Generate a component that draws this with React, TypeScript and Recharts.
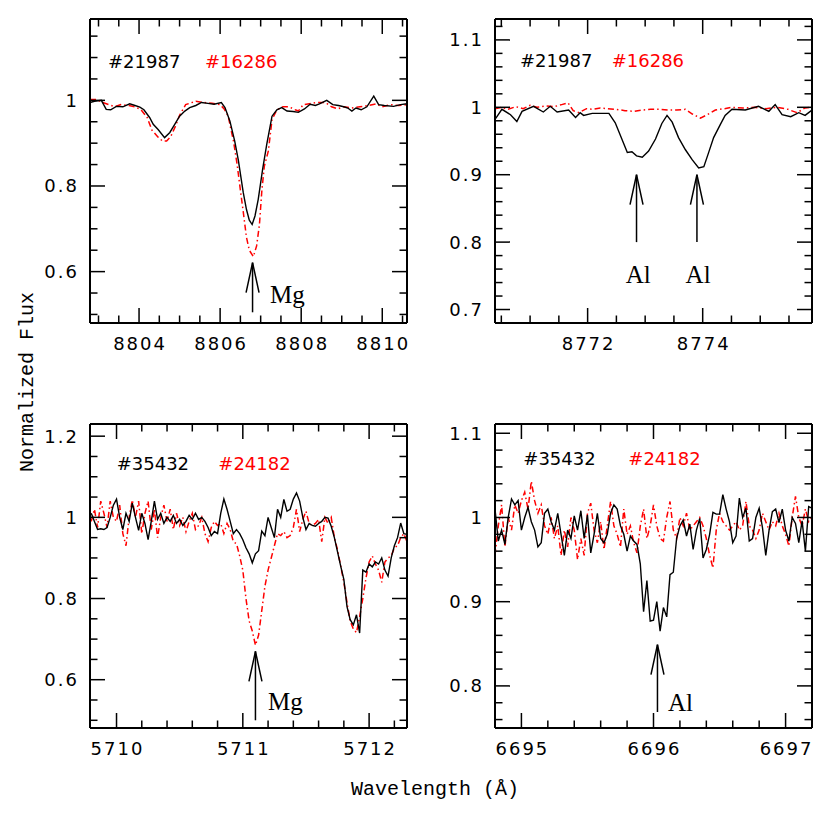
import React from 'react';
import { LineChart, Line, XAxis, YAxis, ReferenceLine, ReferenceDot } from 'recharts';

type Pt = [number, number];

// ---------- Panel 1 : Mg 8806.8 ----------
const p1Black: Pt[] = [
  [8802.79,0.995],[8802.9,0.998],[8803.07,1.0],[8803.19,0.979],[8803.3,0.978],[8803.44,0.986],[8803.6,0.985],[8803.77,0.992],[8803.9,0.988],[8804.02,0.984],
  [8804.12,0.978],[8804.26,0.96],[8804.35,0.944],[8804.47,0.932],[8804.63,0.913],[8804.76,0.925],[8804.88,0.944],[8805.0,0.963],[8805.13,0.975],[8805.25,0.983],
  [8805.4,0.988],[8805.54,0.995],[8805.7,0.993],[8805.85,0.991],[8806.03,0.995],[8806.12,0.983],[8806.24,0.952],[8806.36,0.905],[8806.45,0.86],[8806.57,0.785],
  [8806.65,0.745],[8806.72,0.72],[8806.79,0.71],[8806.86,0.73],[8806.94,0.769],[8807.05,0.84],[8807.15,0.897],[8807.28,0.963],[8807.4,0.978],[8807.52,0.983],
  [8807.65,0.975],[8807.8,0.974],[8807.93,0.972],[8808.08,0.98],[8808.22,0.991],[8808.35,0.988],[8808.45,0.992],[8808.63,1.0],[8808.78,0.99],[8808.92,0.988],
  [8809.05,0.985],[8809.15,0.982],[8809.25,0.975],[8809.35,0.982],[8809.48,0.978],[8809.62,0.985],[8809.79,1.01],[8809.91,0.99],[8810.05,0.988],[8810.28,0.986],
  [8810.45,0.99],[8810.61,0.992],
];
const p1Red: Pt[] = [
  [8802.79,1.002],[8802.95,1.002],[8803.1,0.995],[8803.25,0.99],[8803.4,0.985],[8803.55,0.99],[8803.75,0.988],[8803.9,0.985],[8804.05,0.978],[8804.2,0.96],
  [8804.32,0.93],[8804.47,0.914],[8804.58,0.905],[8804.68,0.905],[8804.78,0.915],[8804.9,0.94],[8805.0,0.965],[8805.15,0.99],[8805.4,0.998],[8805.6,0.995],
  [8805.8,0.993],[8806.0,0.99],[8806.1,0.98],[8806.2,0.963],[8806.26,0.935],[8806.33,0.905],[8806.42,0.85],[8806.5,0.79],[8806.57,0.74],[8806.65,0.68],
  [8806.72,0.65],[8806.82,0.635],[8806.9,0.66],[8806.97,0.71],[8807.03,0.79],[8807.09,0.846],[8807.19,0.882],[8807.28,0.955],[8807.4,0.978],[8807.55,0.985],
  [8807.7,0.985],[8807.85,0.978],[8807.93,0.975],[8808.05,0.99],[8808.2,0.992],[8808.4,0.995],[8808.6,0.995],[8808.75,0.985],[8808.9,0.98],[8809.05,0.985],
  [8809.25,0.982],[8809.45,0.985],[8809.65,0.988],[8809.85,0.992],[8810.0,0.985],[8810.2,0.99],[8810.4,0.988],[8810.61,0.99],
];
const p1XTicks = [8803,8803.5,8804,8804.5,8805,8805.5,8806,8806.5,8807,8807.5,8808,8808.5,8809,8809.5,8810,8810.5];
const p1XMajor = [8804,8806,8808,8810];
const p1XLabels = ['8804','8806','8808','8810'];
const p1YTicks = [0.5,0.55,0.6,0.65,0.7,0.75,0.8,0.85,0.9,0.95,1,1.05,1.1,1.15];
const p1YMajor = [0.6,0.8,1];
const p1YLabels = ['0.6','0.8','1'];

// ---------- Panel 2 : Al 8773 ----------
const p2Black: Pt[] = [
  [8770.39,0.982],[8770.51,0.997],[8770.66,0.989],[8770.77,0.979],[8770.86,0.994],[8771.06,1.0015],[8771.23,0.993],[8771.35,1.0015],[8771.47,0.993],[8771.67,0.996],
  [8771.79,0.985],[8771.87,0.992],[8771.93,0.988],[8772.08,0.991],[8772.37,0.991],[8772.48,0.977],[8772.6,0.952],[8772.69,0.933],[8772.77,0.934],[8772.85,0.928],
  [8772.95,0.926],[8773.06,0.935],[8773.18,0.953],[8773.29,0.976],[8773.38,0.988],[8773.47,0.978],[8773.58,0.955],[8773.7,0.937],[8773.82,0.922],[8773.93,0.91],
  [8774.02,0.912],[8774.1,0.932],[8774.19,0.955],[8774.31,0.975],[8774.39,0.988],[8774.51,0.997],[8774.74,0.996],[8774.97,1.0015],[8775.15,0.994],[8775.26,1.004],
  [8775.38,0.989],[8775.53,0.986],[8775.67,0.992],[8775.78,0.988],[8775.9,0.996],
];
const p2Red: Pt[] = [
  [8770.39,0.998],[8770.5,1.0],[8770.62,0.997],[8770.75,1.001],[8770.88,0.998],[8771.0,1.003],[8771.12,1.0],[8771.28,1.002],[8771.42,1.001],[8771.55,1.004],
  [8771.66,1.0065],[8771.75,0.995],[8771.85,0.992],[8771.98,0.998],[8772.1,0.997],[8772.22,0.999],[8772.35,0.998],[8772.5,0.997],[8772.65,0.995],[8772.8,0.994],
  [8772.95,0.996],[8773.1,0.997],[8773.25,0.997],[8773.4,0.996],[8773.55,0.996],[8773.7,0.997],[8773.82,0.99],[8773.96,0.984],[8774.08,0.989],[8774.22,0.996],
  [8774.38,0.998],[8774.51,1.0],[8774.7,0.999],[8774.9,1.0],[8775.1,0.998],[8775.3,1.0],[8775.48,0.997],[8775.64,0.992],[8775.78,0.999],[8775.9,1.0],
];
const p2XTicks = [8770.5,8771,8771.5,8772,8772.5,8773,8773.5,8774,8774.5,8775,8775.5];
const p2XMajor = [8772,8774];
const p2XLabels = ['8772','8774'];
const p2YTicks = [0.7,0.72,0.74,0.76,0.78,0.8,0.82,0.84,0.86,0.88,0.9,0.92,0.94,0.96,0.98,1,1.02,1.04,1.06,1.08,1.1,1.12];
const p2YMajor = [0.7,0.8,0.9,1,1.1];
const p2YLabels = ['0.7','0.8','0.9','1','1.1'];

// ---------- Panel 3 : Mg 5711 (grid 5709.800, step 0.025) ----------
const p3Start = 5709.8;
const p3Step = 0.025;
const p3Black = [
  1.010,0.990,0.970,0.972,0.970,0.975,1.000,1.030,1.045,1.000,
  0.970,1.010,0.990,1.035,1.000,0.968,1.010,0.985,0.945,0.990,
  1.040,0.995,1.010,0.985,1.000,0.990,1.005,0.985,0.995,0.980,
  0.990,1.005,0.995,1.010,0.995,1.000,0.990,0.975,0.955,0.965,
  0.960,1.010,1.045,1.020,0.990,0.960,0.970,0.960,0.945,0.925,
  0.910,0.888,0.910,0.918,0.966,0.955,1.000,0.975,0.950,1.020,
  1.000,1.044,1.015,1.020,1.045,1.060,1.040,1.000,0.970,0.985,
  0.980,0.978,0.985,0.990,1.000,0.998,0.978,0.950,0.915,0.880,
  0.847,0.780,0.748,0.735,0.760,0.715,0.870,0.865,0.885,0.878,
  0.890,0.885,0.900,0.870,0.855,0.900,0.930,0.950,0.986,0.960,
  0.958,
];
const p3Red = [
  0.990,1.020,0.975,1.040,1.010,0.975,1.040,1.000,0.990,1.030,
  0.960,0.930,1.000,1.043,1.000,1.040,0.960,1.010,1.040,0.970,
  1.020,0.950,1.000,1.030,0.990,1.020,0.970,1.010,0.980,1.000,
  0.965,0.990,1.010,0.970,0.980,1.000,0.960,0.940,0.975,0.990,
  0.980,0.985,0.960,0.985,0.970,0.940,0.935,0.905,0.870,0.800,
  0.745,0.720,0.685,0.710,0.770,0.830,0.870,0.900,0.930,0.960,
  0.955,0.965,0.950,0.955,0.975,1.020,0.965,0.995,1.015,0.985,
  0.980,0.985,0.995,0.940,1.000,0.985,1.000,0.950,0.920,0.880,
  0.840,0.790,0.745,0.725,0.716,0.755,0.800,0.850,0.890,0.905,
  0.885,0.870,0.840,0.890,0.900,0.905,0.925,0.930,0.950,0.960,
  0.940,
];
const p3XTicks = [5710,5710.2,5710.4,5710.6,5710.8,5711,5711.2,5711.4,5711.6,5711.8,5712,5712.2];
const p3XMajor = [5710,5711,5712];
const p3XLabels = ['5710','5711','5712'];
const p3YTicks = [0.5,0.55,0.6,0.65,0.7,0.75,0.8,0.85,0.9,0.95,1,1.05,1.1,1.15,1.2];
const p3YMajor = [0.6,0.8,1,1.2];
const p3YLabels = ['0.6','0.8','1','1.2'];

// ---------- Panel 4 : Al 6696 (grid 6694.800, step 0.025) ----------
const p4Start = 6694.8;
const p4Step = 0.025;
const p4Black = [
  1.010,0.972,0.985,0.968,1.000,1.022,1.015,1.020,0.985,1.000,
  1.012,0.995,0.985,0.965,0.970,1.005,1.010,0.995,0.985,1.005,
  0.980,0.955,0.985,0.975,1.002,0.985,1.008,0.975,1.003,0.958,
  0.980,1.005,0.975,0.970,0.980,1.005,1.015,1.010,0.990,0.980,
  0.960,0.978,0.972,0.968,0.945,0.888,0.925,0.877,0.878,0.900,
  0.865,0.893,0.882,0.932,0.935,0.975,0.990,0.997,0.978,0.992,
  0.962,0.985,0.999,0.952,0.962,0.980,1.006,1.004,1.004,1.027,
  1.010,0.995,0.970,0.978,1.023,1.000,1.011,0.972,0.975,1.000,
  1.011,0.988,0.955,0.985,1.007,1.010,0.994,1.010,0.985,0.972,
  1.000,0.993,0.970,0.996,0.960,1.013,
  1.011,
];
const p4Red = [
  0.955,0.990,1.015,0.965,1.000,0.985,1.015,1.005,1.020,1.030,
  1.010,1.043,1.020,1.005,1.015,0.990,0.980,1.000,0.975,0.990,
  0.955,0.985,0.965,1.000,0.985,0.950,0.975,0.955,1.005,1.017,
  0.985,0.970,0.995,0.962,0.990,1.019,0.990,0.980,0.965,1.010,
  0.980,0.990,0.970,0.958,0.990,1.010,0.975,0.990,1.015,0.990,
  0.975,0.972,1.000,1.019,0.985,0.975,1.000,0.990,1.005,0.985,
  0.990,0.995,1.000,0.990,0.975,0.955,0.940,0.985,1.005,0.995,
  0.990,0.985,0.990,0.995,0.985,0.990,1.019,0.990,0.985,0.975,
  0.985,1.005,0.995,0.985,0.995,0.990,1.005,0.990,0.980,0.966,
  1.000,1.025,1.000,0.990,1.010,0.995,
  1.000,
];
const p4XTicks = [6695,6695.2,6695.4,6695.6,6695.8,6696,6696.2,6696.4,6696.6,6696.8,6697];
const p4XMajor = [6695,6696,6697];
const p4XLabels = ['6695','6696','6697'];
const p4YTicks = [0.76,0.78,0.8,0.82,0.84,0.86,0.88,0.9,0.92,0.94,0.96,0.98,1,1.02,1.04,1.06,1.08,1.1];
const p4YMajor = [0.8,0.9,1,1.1];
const p4YLabels = ['0.8','0.9','1','1.1'];

// ---------- helpers ----------
const fromPairs = (a: Pt[]) => a.map(([x, y]) => ({ x, y }));
const fromGrid = (start: number, step: number, v: number[]) =>
  v.map((y, i) => ({ x: +(start + i * step).toFixed(4), y }));

const TICK_FONT = '"DejaVu Sans", sans-serif';
const SERIF = '"Liberation Serif", "Times New Roman", serif';
const MONO = '"Liberation Mono", "Courier New", monospace';

type Side = 'bottom' | 'top' | 'left' | 'right';
function makeTick(side: Side, majors: number[], labels: string[]) {
  return (props: any) => {
    const { x, y, payload } = props;
    const v = payload.value;
    const mi = majors.findIndex((m) => Math.abs(m - v) < 1e-6);
    const L = mi >= 0 ? 15 : 7.5;
    let x2 = x, y2 = y;
    if (side === 'bottom') y2 = y - L;
    if (side === 'top') y2 = y + L;
    if (side === 'left') x2 = x + L;
    if (side === 'right') x2 = x - L;
    return (
      <g>
        <line x1={x} y1={y} x2={x2} y2={y2} stroke="#000" strokeWidth={1.5} />
        {mi >= 0 && side === 'bottom' && (
          <text x={x + 1} y={y + 26.7} textAnchor="middle" fontFamily={TICK_FONT} fontSize={18} letterSpacing={2} fill="#000">
            {labels[mi]}
          </text>
        )}
        {mi >= 0 && side === 'left' && (
          <text x={x - 11} y={y + 6.5} textAnchor="end" fontFamily={TICK_FONT} fontSize={18} letterSpacing={2} fill="#000">
            {labels[mi]}
          </text>
        )}
      </g>
    );
  };
}

interface Arrow { x: number; tip: number; tail: number }
interface Label { x: number; y: number; text: string; anchor: 'start' | 'middle' }

interface PanelCfg {
  left: number; top: number;
  xDomain: [number, number]; yDomain: [number, number];
  xTicks: number[]; xMajor: number[]; xLabels: string[];
  yTicks: number[]; yMajor: number[]; yLabels: string[];
  black: { x: number; y: number }[]; red: { x: number; y: number }[];
  arrows: Arrow[]; labels: Label[];
}

const PLOT_W = 317;
const PLOT_H = 304;
const ML = 50;
const MR = 16;
const MB = 40;

const panels: PanelCfg[] = [
  {
    left: 90, top: 19,
    xDomain: [8802.79, 8810.61], yDomain: [0.48, 1.19],
    xTicks: p1XTicks, xMajor: p1XMajor, xLabels: p1XLabels,
    yTicks: p1YTicks, yMajor: p1YMajor, yLabels: p1YLabels,
    black: fromPairs(p1Black), red: fromPairs(p1Red),
    arrows: [{ x: 8806.8, tip: 0.621, tail: 0.505 }],
    labels: [{ x: 8807.23, y: 0.527, text: 'Mg', anchor: 'start' }],
  },
  {
    left: 495, top: 19,
    xDomain: [8770.39, 8775.9], yDomain: [0.68, 1.131],
    xTicks: p2XTicks, xMajor: p2XMajor, xLabels: p2XLabels,
    yTicks: p2YTicks, yMajor: p2YMajor, yLabels: p2YLabels,
    black: fromPairs(p2Black), red: fromPairs(p2Red),
    arrows: [{ x: 8772.85, tip: 0.9, tail: 0.8 }, { x: 8773.9, tip: 0.9, tail: 0.8 }],
    labels: [
      { x: 8772.88, y: 0.74, text: 'Al', anchor: 'middle' },
      { x: 8773.92, y: 0.74, text: 'Al', anchor: 'middle' },
    ],
  },
  {
    left: 90, top: 424,
    xDomain: [5709.79, 5712.3], yDomain: [0.481, 1.23],
    xTicks: p3XTicks, xMajor: p3XMajor, xLabels: p3XLabels,
    yTicks: p3YTicks, yMajor: p3YMajor, yLabels: p3YLabels,
    black: fromGrid(p3Start, p3Step, p3Black), red: fromGrid(p3Start, p3Step, p3Red),
    arrows: [{ x: 5711.1, tip: 0.67, tail: 0.5 }],
    labels: [{ x: 5711.2, y: 0.526, text: 'Mg', anchor: 'start' }],
  },
  {
    left: 495, top: 424,
    xDomain: [6694.8, 6697.2], yDomain: [0.75, 1.111],
    xTicks: p4XTicks, xMajor: p4XMajor, xLabels: p4XLabels,
    yTicks: p4YTicks, yMajor: p4YMajor, yLabels: p4YLabels,
    black: fromGrid(p4Start, p4Step, p4Black), red: fromGrid(p4Start, p4Step, p4Red),
    arrows: [{ x: 6696.03, tip: 0.849, tail: 0.769 }],
    labels: [{ x: 6696.11, y: 0.77, text: 'Al', anchor: 'start' }],
  },
];

const starIds = [
  { x: 108, y: 68.3, text: '#21987', color: '#000' },
  { x: 205, y: 68.3, text: '#16286', color: '#ff0000' },
  { x: 520, y: 66.7, text: '#21987', color: '#000' },
  { x: 611.7, y: 66.7, text: '#16286', color: '#ff0000' },
  { x: 116.7, y: 470, text: '#35432', color: '#000' },
  { x: 218.3, y: 470, text: '#24182', color: '#ff0000' },
  { x: 523.3, y: 465, text: '#35432', color: '#000' },
  { x: 628.3, y: 465, text: '#24182', color: '#ff0000' },
];

function Panel({ cfg, idx }: { cfg: PanelCfg; idx: number }) {
  const xb = 'b' + idx, xt = 't' + idx, yl = 'l' + idx, yr = 'r' + idx;
  const axisLine = { stroke: '#000', strokeWidth: 2 };
  return (
    <div style={{ position: 'absolute', left: cfg.left - ML, top: cfg.top - 1 }}>
      <LineChart width={ML + PLOT_W + MR} height={1 + PLOT_H + MB} margin={{ top: 0, right: 0, bottom: 0, left: 0 }}>
        <XAxis xAxisId={xb} dataKey="x" type="number" orientation="bottom" domain={cfg.xDomain} allowDataOverflow
          ticks={cfg.xTicks} interval={0} height={MB} tickSize={0} tickMargin={0} tickLine={false} axisLine={axisLine}
          tick={makeTick('bottom', cfg.xMajor, cfg.xLabels)} />
        <XAxis xAxisId={xt} dataKey="x" type="number" orientation="top" domain={cfg.xDomain} allowDataOverflow
          ticks={cfg.xTicks} interval={0} height={1} tickSize={0} tickMargin={0} tickLine={false} axisLine={axisLine}
          tick={makeTick('top', cfg.xMajor, cfg.xLabels)} />
        <YAxis yAxisId={yl} type="number" orientation="left" domain={cfg.yDomain} allowDataOverflow
          ticks={cfg.yTicks} interval={0} width={ML} tickSize={0} tickMargin={0} tickLine={false} axisLine={axisLine}
          tick={makeTick('left', cfg.yMajor, cfg.yLabels)} />
        <YAxis yAxisId={yr} type="number" orientation="right" domain={cfg.yDomain} allowDataOverflow
          ticks={cfg.yTicks} interval={0} width={MR} tickSize={0} tickMargin={0} tickLine={false} axisLine={axisLine}
          tick={makeTick('right', cfg.yMajor, cfg.yLabels)} />
        <Line xAxisId={xb} yAxisId={yl} data={cfg.red} dataKey="y" type="linear" stroke="#ff0000" strokeWidth={1.5}
          strokeDasharray="6 3 1.5 3" dot={false} activeDot={false} isAnimationActive={false} />
        <Line xAxisId={xb} yAxisId={yl} data={cfg.black} dataKey="y" type="linear" stroke="#000" strokeWidth={1.4}
          dot={false} activeDot={false} isAnimationActive={false} />
        {cfg.arrows.map((a, i) => (
          <ReferenceLine key={'s' + i} xAxisId={xb} yAxisId={yl}
            segment={[{ x: a.x, y: a.tip }, { x: a.x, y: a.tail }]} stroke="#000" strokeWidth={1.5} />
        ))}
        {cfg.arrows.map((a, i) => (
          <ReferenceDot key={'h' + i} xAxisId={xb} yAxisId={yl} x={a.x} y={a.tip} r={1}
            shape={(p: any) => (
              <polyline points={`${p.cx - 6.5},${p.cy + 30} ${p.cx},${p.cy} ${p.cx + 6.5},${p.cy + 30}`}
                fill="none" stroke="#000" strokeWidth={1.5} />
            )} />
        ))}
        {cfg.labels.map((l, i) => (
          <ReferenceDot key={'t' + i} xAxisId={xb} yAxisId={yl} x={l.x} y={l.y} r={1}
            shape={(p: any) => (
              <text x={p.cx} y={p.cy} textAnchor={l.anchor} fontFamily={SERIF} fontSize={25} fill="#000">{l.text}</text>
            )} />
        ))}
      </LineChart>
    </div>
  );
}

export default function App() {
  return (
    <div style={{ position: 'absolute', left: 0, top: 0, width: 830, height: 830, background: '#fff' }}>
      {panels.map((p, i) => <Panel key={i} cfg={p} idx={i} />)}
      <svg width={830} height={830} style={{ position: 'absolute', left: 0, top: 0, pointerEvents: 'none' }}>
        {starIds.map((s, i) => (
          <text key={i} x={s.x} y={s.y} fontFamily={TICK_FONT} fontSize={18} fill={s.color}>{s.text}</text>
        ))}
        <text x={0} y={0} transform="translate(33,382) rotate(-90)" textAnchor="middle" fontFamily={MONO} fontSize={20} fill="#000">
          Normalized Flux
        </text>
        <text x={435} y={795} textAnchor="middle" fontFamily={MONO} fontSize={20} fill="#000">
          Wavelength (Å)
        </text>
      </svg>
    </div>
  );
}
